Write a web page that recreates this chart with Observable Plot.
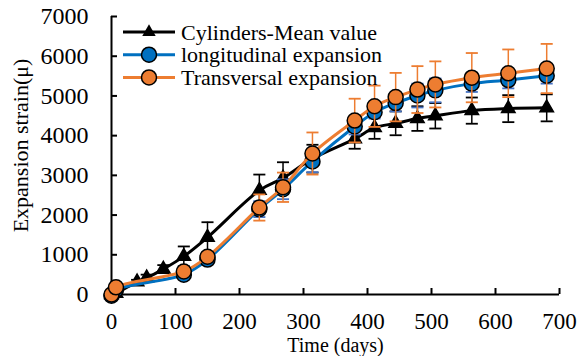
<!DOCTYPE html>
<html>
<head>
<meta charset="utf-8">
<script src="https://cdn.jsdelivr.net/npm/d3@7"></script>
<script src="https://cdn.jsdelivr.net/npm/@observablehq/plot@0.6"></script>
<style>
  body { margin: 0; background: #fff; }
  #wrap { position: relative; width: 579px; height: 356px; font-family: "Liberation Serif", "Times New Roman", serif; }
  #legend { position: absolute; left: 0; top: 0; }
</style>
</head>
<body>
<div id="wrap"></div>
<script>
// ---- data ----
const xTicks = [0, 100, 200, 300, 400, 500, 600, 700];
const yTicks = [0, 1000, 2000, 3000, 4000, 5000, 6000, 7000];

const seriesNames = ["Cylinders-Mean value", "longitudinal expansion", "Transversal expansion"];

const cylDays = [0, 7, 40, 55, 81, 113, 150, 231, 268, 314, 380, 411, 444, 478, 506, 563, 620, 680];
const cylMean = [0, 30, 320, 420, 640, 960, 1440, 2620, 2930, 3420, 3920, 4200, 4310, 4430, 4500, 4630, 4680, 4700];
const cylErr  = [0, 0, 50, 80, 100, 250, 380, 400, 400, 350, 250, 280, 300, 310, 320, 330, 340, 340];

const expDays = [0, 7, 113, 150, 231, 268, 314, 380, 411, 444, 478, 506, 563, 620, 680];
const longMean = [-30, 120, 500, 880, 2150, 2650, 3350, 4230, 4590, 4820, 5010, 5140, 5310, 5400, 5510];
const longErr  = [0, 30, 50, 80, 200, 250, 270, 200, 160, 210, 300, 300, 210, 210, 200];
const transMean = [0, 180, 580, 950, 2190, 2700, 3550, 4380, 4740, 4970, 5160, 5290, 5460, 5570, 5690];
const transErr  = [0, 30, 60, 80, 330, 370, 530, 550, 520, 610, 590, 580, 620, 600, 620];

const colors = ["#000000", "#0070C0", "#ED7D31"];
const capColors = ["#000000", "#4472C4", "#ED7D31"];

// ---- build tables ----
const mk = (days, mean, err) => days.map((d, i) => ({x: d, y: mean[i], lo: mean[i] - err[i], hi: mean[i] + err[i], e: err[i]}));
const cyl = mk(cylDays, cylMean, cylErr);
const lon = mk(expDays, longMean, longErr);
const tra = mk(expDays, transMean, transErr);

const capSymbol = { draw(ctx, size) { const w = Math.sqrt(size); ctx.moveTo(-w, 0); ctx.lineTo(w, 0); } };

function errMarks(data, i) {
  const d = data.filter(p => p.e > 0);
  return [
    Plot.ruleX(d, {x: "x", y1: "lo", y2: "hi", stroke: capColors[i], strokeWidth: 1.5}),
    Plot.dot(d, {x: "x", y: "hi", symbol: capSymbol, r: 3.4, stroke: capColors[i], strokeWidth: 1.8, fill: "none"}),
    Plot.dot(d, {x: "x", y: "lo", symbol: capSymbol, r: 3.4, stroke: capColors[i], strokeWidth: 1.8, fill: "none"})
  ];
}

const chart = Plot.plot({
  width: 579,
  height: 356,
  marginLeft: 111,
  marginRight: 20,
  marginTop: 16,
  marginBottom: 62,
  style: {fontFamily: '"Liberation Serif", "Times New Roman", serif', background: "white", overflow: "visible"},
  x: {domain: [0, 700]},
  y: {domain: [0, 7000]},
  marks: [
    Plot.axisX({ticks: xTicks, tickSize: -6, tickPadding: 24, fontSize: 23, tickFormat: d3.format("d"), stroke: "black", strokeWidth: 2, label: null}),
    Plot.axisY({ticks: yTicks, tickSize: -6, tickPadding: 29, fontSize: 24, tickFormat: d3.format("d"), stroke: "black", strokeWidth: 2, label: null}),
    Plot.ruleX([0], {stroke: "black", strokeWidth: 2}),
    Plot.ruleY([0], {stroke: "black", strokeWidth: 2}),
    ...errMarks(cyl, 0),
    Plot.line(cyl, {x: "x", y: "y", stroke: colors[0], strokeWidth: 3, curve: "catmull-rom"}),
    Plot.dot(cyl, {x: "x", y: "y", symbol: "triangle", r: 5, fill: colors[0], stroke: colors[0]}),
    ...errMarks(lon, 1),
    Plot.line(lon, {x: "x", y: "y", stroke: colors[1], strokeWidth: 3, curve: "catmull-rom"}),
    Plot.dot(lon, {x: "x", y: "y", r: 7.5, fill: colors[1], stroke: "black", strokeWidth: 1.5}),
    ...errMarks(tra, 2),
    Plot.line(tra, {x: "x", y: "y", stroke: colors[2], strokeWidth: 3, curve: "catmull-rom"}),
    Plot.dot(tra, {x: "x", y: "y", r: 7.5, fill: colors[2], stroke: "black", strokeWidth: 1.5}),
    Plot.text(["Time (days)"], {frameAnchor: "bottom", dy: 51, lineAnchor: "middle", textAnchor: "middle", fontSize: 20, fill: "black"}),
    Plot.text(["Expansion strain(μ)"], {frameAnchor: "left", rotate: -90, dx: -91, dy: -10, lineAnchor: "middle", textAnchor: "middle", fontSize: 22, fill: "black"})
  ]
});
document.getElementById("wrap").appendChild(chart);

// ---- legend (overlay inside the frame) ----
const lg = d3.select("#wrap").append("svg").attr("id", "legend").attr("width", 579).attr("height", 100);
seriesNames.forEach((name, i) => {
  const g = lg.append("g").attr("transform", `translate(0, ${32 + i * 22.7})`);
  g.append("line").attr("x1", 123).attr("x2", 175).attr("y1", 0).attr("y2", 0).attr("stroke", colors[i]).attr("stroke-width", 3);
  if (i === 0) {
    g.append("path").attr("d", d3.symbol(d3.symbolTriangle, 25 * Math.PI)()).attr("transform", "translate(149,0)").attr("fill", "black");
  } else {
    g.append("circle").attr("cx", 149).attr("cy", 0).attr("r", 7.5).attr("fill", colors[i]).attr("stroke", "black").attr("stroke-width", 1.5);
  }
  g.append("text").attr("x", 181).attr("y", 0).attr("dy", "0.35em").attr("font-size", 22)
    .attr("font-family", '"Liberation Serif", "Times New Roman", serif').text(name);
});
</script>
</body>
</html>
